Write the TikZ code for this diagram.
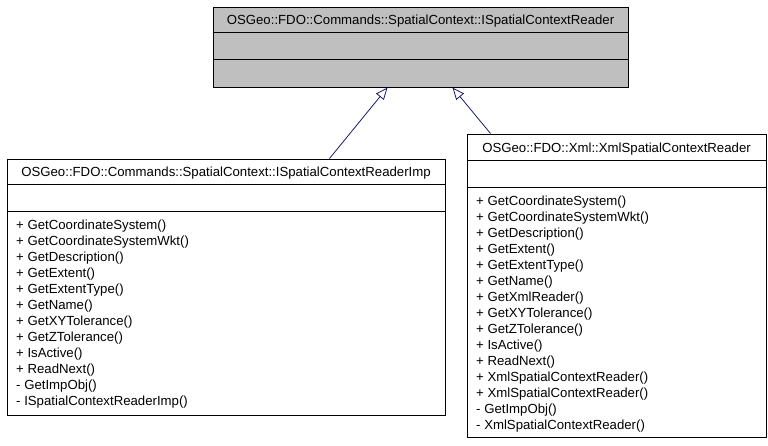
\documentclass[tikz,border=0pt]{standalone}
\usepackage{fontspec}
\setmainfont{Liberation Sans}
\usetikzlibrary{arrows.meta,calc}
\definecolor{umlgray}{HTML}{BFBFBF}
\definecolor{edgeblue}{HTML}{191970}
\tikzset{
  classbox/.style={draw=black, line width=1pt, inner sep=0pt, minimum width=#1},
  titletext/.style={font=\fontsize{13.2}{16}\selectfont, inner sep=0pt, anchor=base},
  membertext/.style={font=\fontsize{13.2}{16}\selectfont, inner sep=0pt, anchor=base west},
  sepline/.style={draw=black, line width=1pt},
  inherit/.style={draw=edgeblue, line width=0.8pt, -{Triangle[open, length=12pt, width=10pt]}},
}
\begin{document}
\begin{tikzpicture}[x=1pt,y=-1pt]
\useasboundingbox (0,0) rectangle (768,445);
% top class
\node[classbox=415pt, fill=umlgray, minimum height=80pt] (top) at (420.5,47) {};
\draw[sepline] ($(top.north west)+(0,26)$) -- ($(top.north east)+(0,26)$);
\draw[sepline] ($(top.north west)+(0,53)$) -- ($(top.north east)+(0,53)$);
\node[titletext] (toptitle) at (420.5,24.7) {OSGeo::FDO::Commands::SpatialContext::ISpatialContextReader};
% left class
\node[classbox=438pt, fill=white, minimum height=256pt] (left) at (226,287) {};
\draw[sepline] ($(left.north west)+(0,26)$) -- ($(left.north east)+(0,26)$);
\draw[sepline] ($(left.north west)+(0,53)$) -- ($(left.north east)+(0,53)$);
\node[titletext] (lefttitle) at (226,176.7) {OSGeo::FDO::Commands::SpatialContext::ISpatialContextReaderImp};
\foreach \m [count=\i from 0] in {+ GetCoordinateSystem(), + GetCoordinateSystemWkt(), + GetDescription(), + GetExtent(), + GetExtentType(), + GetName(), + GetXYTolerance(), + GetZTolerance(), + IsActive(), + ReadNext(), - GetImpObj(), - ISpatialContextReaderImp()}
  \node[membertext] (lm\i) at (16,229.7+16*\i) {\m};
% right class
\node[classbox=299pt, fill=white, minimum height=303pt] (right) at (616.5,285.5) {};
\draw[sepline] ($(right.north west)+(0,27)$) -- ($(right.north east)+(0,27)$);
\draw[sepline] ($(right.north west)+(0,54)$) -- ($(right.north east)+(0,54)$);
\node[titletext] (righttitle) at (616.5,152.2) {OSGeo::FDO::Xml::XmlSpatialContextReader};
\foreach \m [count=\i from 0] in {+ GetCoordinateSystem(), + GetCoordinateSystemWkt(), + GetDescription(), + GetExtent(), + GetExtentType(), + GetName(), + GetXmlReader(), + GetXYTolerance(), + GetZTolerance(), + IsActive(), + ReadNext(), + XmlSpatialContextReader(), + XmlSpatialContextReader(), - GetImpObj(), - XmlSpatialContextReader()}
  \node[membertext] (rm\i) at (476,205.2+16*\i) {\m};
% inheritance connectors
\draw[inherit] ($(left.north west)+(323,0)$) -- ($(top.south west)+(175,0)$);
\draw[inherit] ($(right.north west)+(24,0)$) -- ($(top.south west)+(240,0)$);
\end{tikzpicture}
\end{document}
